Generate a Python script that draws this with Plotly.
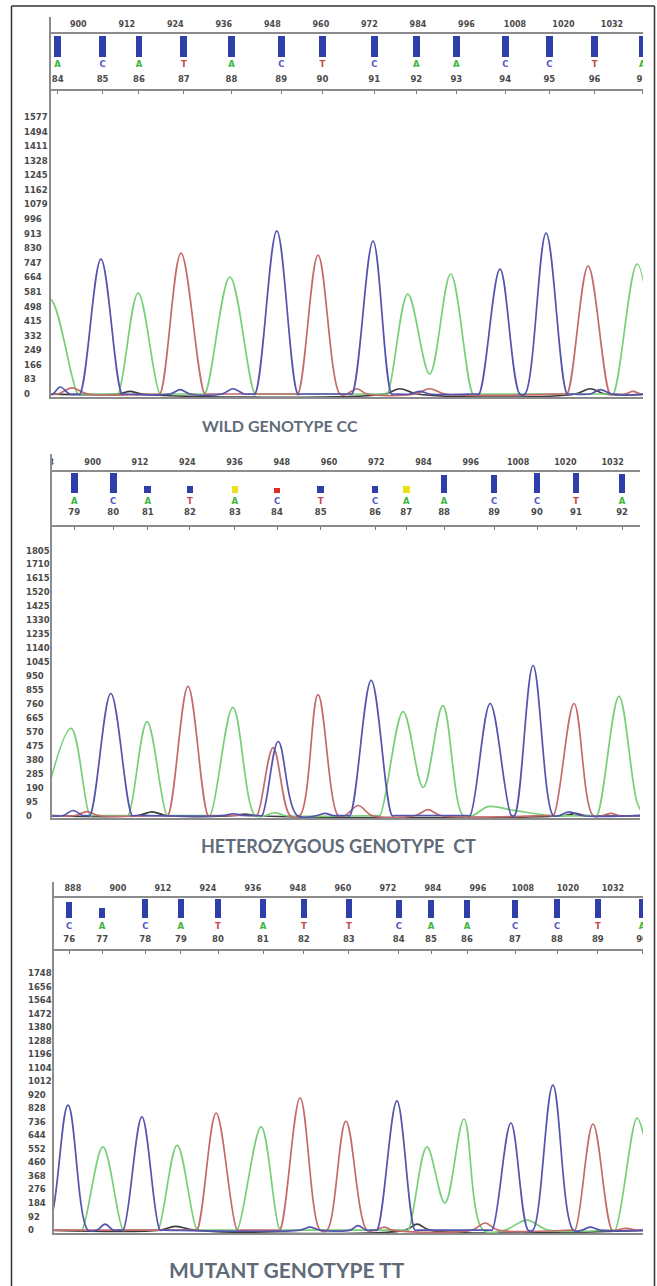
import plotly.graph_objects as go

# ------------------------------------------------------------------ data
# Panel 1 : wild genotype CC
P1_TITLE = "WILD GENOTYPE CC"
P1_SCAN_TICKS = [900, 912, 924, 936, 948, 960, 972, 984, 996, 1008, 1020, 1032]
P1_BASES = ["A", "C", "A", "T", "A", "C", "T", "C", "A", "A", "C", "C", "T", "A"]
P1_BASE_NUM = [84, 85, 86, 87, 88, 89, 90, 91, 92, 93, 94, 95, 96, 97]
P1_BASE_POS = [894.9, 906.0, 915.0, 926.1, 937.9, 950.2, 960.4, 973.2, 983.6, 993.5, 1005.6, 1016.5, 1027.7, 1039.5]
P1_BAR_Q = [1, 1, 1, 1, 1, 1, 1, 1, 1, 1, 1, 1, 1, 1]
P1_BAR_COL = ["B", "B", "B", "B", "B", "B", "B", "B", "B", "B", "B", "B", "B", "B"]
P1_Y_TICKS = [0, 83, 166, 249, 332, 415, 498, 581, 664, 747, 830, 913, 996, 1079, 1162, 1245, 1328, 1411, 1494, 1577]
P1_GREEN = [(886.1, 0), (893.0, 540), (899.9, 0), (900.7, 0), (909.0, 0), (909.8, 0), (914.8, 575), (920.2, 0),
            (921.0, 0), (930.5, 0), (931.3, 0), (937.5, 666), (943.7, 0), (944.5, 0), (975.6, 0), (976.4, 0),
            (981.5, 569), (986.9, 114), (992.1, 683), (997.6, 0), (998.4, 0), (1031.5, 0), (1032.3, 0),
            (1038.2, 740), (1043.5, 0)]
P1_BLUE = [(892.0, 0), (893.7, 0), (895.5, 40), (897.9, 0), (899.6, 0), (900.4, 0), (905.6, 768), (910.8, 0),
           (911.6, 0), (922.7, 0), (925.2, 25), (927.6, 0), (935.5, 0), (938.3, 30), (941.0, 0), (942.9, 0),
           (943.7, 0), (949.1, 928), (954.3, 0), (955.1, 0), (966.9, 0), (967.7, 0), (972.9, 871), (977.5, 0),
           (978.3, 0), (982.0, 0), (984.5, 15), (987.0, 0), (998.3, 0), (999.1, 0), (1004.3, 711), (1009.2, 0),
           (1010.5, 0), (1015.7, 916), (1020.9, 0), (1021.7, 0), (1026.6, 0), (1029.1, 25), (1032.0, 0), (1041.0, 0)]
P1_RED = [(892.0, 0), (895.0, 0), (898.4, 35), (902.4, 0), (919.4, 0), (920.2, 0), (925.4, 802), (931.3, 0),
          (932.1, 0), (953.5, 0), (954.3, 0), (959.3, 791), (964.7, 0), (966.4, 0), (968.9, 30), (971.4, 0),
          (983.3, 0), (986.9, 30), (990.7, 0), (1020.1, 0), (1020.9, 0), (1026.1, 728), (1031.5, 0), (1032.3, 0),
          (1035.2, 0), (1037.2, 15), (1039.2, 0), (1042.0, 0)]
P1_BLACK = [(892.0, 0), (909.8, 0), (912.8, 15), (915.8, 0), (975.8, 0), (979.5, 30), (983.9, 0), (1022.9, 0),
            (1026.6, 30), (1030.3, 0), (1042.0, 0)]

# Panel 2 : heterozygous genotype CT
P2_TITLE = "HETEROZYGOUS GENOTYPE\u00a0\u00a0CT"
P2_SCAN_TICKS = [888, 900, 912, 924, 936, 948, 960, 972, 984, 996, 1008, 1020, 1032]
P2_BASES = ["A", "C", "A", "T", "A", "C", "T", "C", "A", "A", "C", "C", "T", "A"]
P2_BASE_NUM = [79, 80, 81, 82, 83, 84, 85, 86, 87, 88, 89, 90, 91, 92]
P2_BASE_POS = [895.3, 905.2, 914.0, 924.7, 936.1, 946.8, 957.9, 971.7, 979.6, 989.2, 1001.9, 1012.8, 1022.7, 1034.4]
P2_BAR_Q = [1, 1, 0.35, 0.35, 0.35, 0.25, 0.35, 0.35, 0.35, 0.9, 0.9, 1, 1, 0.95]
P2_BAR_COL = ["B", "B", "B", "B", "Y", "R", "B", "B", "Y", "B", "B", "B", "B", "B"]
P2_Y_TICKS = [0, 95, 190, 285, 380, 475, 570, 665, 760, 855, 950, 1045, 1140, 1235, 1330, 1425, 1520, 1615, 1710, 1805]
P2_GREEN = [(887.0, 0), (894.5, 593), (899.3, 0), (900.1, 0), (908.2, 0), (909.0, 0), (913.8, 640), (918.9, 0),
            (919.7, 0), (929.0, 0), (929.8, 0), (935.6, 736), (941.2, 0), (943.8, 0), (946.3, 20), (948.8, 0),
            (972.1, 0), (972.9, 0), (978.8, 708), (983.9, 191), (988.9, 749), (994.0, 0), (996.5, 0),
            (1000.4, 61), (1006.9, 35), (1016.2, 0), (1027.2, 0), (1028.0, 0), (1033.6, 811), (1038.2, 89),
            (1040.0, 0)]
P2_BLUE = [(888.0, 0), (892.5, 0), (895.0, 34), (897.5, 0), (898.5, 0), (899.3, 0), (904.6, 831), (910.0, 0),
           (910.8, 0), (933.0, 0), (935.6, 12), (938.5, 0), (942.2, 0), (943.0, 0), (947.1, 504), (951.9, 0),
           (957.0, 0), (959.0, 15), (961.0, 0), (964.5, 0), (965.3, 0), (970.7, 920), (976.0, 0), (976.8, 0),
           (995.0, 0), (995.8, 0), (1000.9, 763), (1006.3, 0), (1007.1, 0), (1011.8, 1022), (1016.9, 0),
           (1018.5, 0), (1021.0, 25), (1024.0, 0), (1040.0, 0)]
P2_RED = [(888.0, 0), (895.5, 0), (898.6, 27), (901.5, 0), (918.3, 0), (919.1, 0), (924.2, 879), (929.3, 0),
          (930.1, 0), (940.9, 0), (941.7, 0), (945.8, 463), (950.1, 0), (952.6, 0), (957.2, 824), (962.3, 0),
          (964.1, 0), (967.4, 68), (970.9, 0), (981.9, 0), (985.1, 40), (988.4, 0), (1016.2, 0), (1017.0, 0),
          (1022.2, 763), (1027.0, 0), (1029.5, 0), (1031.6, 15), (1033.6, 0), (1040.0, 0)]
P2_BLACK = [(888.0, 0), (911.5, 0), (915.1, 25), (918.6, 0), (936.1, 0), (938.7, 10), (941.2, 0), (1019.9, 0),
            (1022.5, 15), (1025.0, 0), (1040.0, 0)]

# Panel 3 : mutant genotype TT
P3_TITLE = "MUTANT GENOTYPE TT"
P3_SCAN_TICKS = [888, 900, 912, 924, 936, 948, 960, 972, 984, 996, 1008, 1020, 1032]
P3_BASES = ["C", "A", "C", "A", "T", "A", "T", "T", "C", "A", "A", "C", "C", "T", "A"]
P3_BASE_NUM = [76, 77, 78, 79, 80, 81, 82, 83, 84, 85, 86, 87, 88, 89, 90]
P3_BASE_POS = [887.0, 895.8, 907.3, 916.8, 926.7, 938.7, 949.6, 961.6, 974.9, 983.5, 993.1, 1005.9, 1017.1,
               1028.0, 1039.8]
P3_BAR_Q = [0.85, 0.52, 1, 1, 1, 1, 1, 1, 0.97, 0.97, 0.97, 0.97, 1, 1, 1]
P3_BAR_COL = ["B", "B", "B", "B", "B", "B", "B", "B", "B", "B", "B", "B", "B", "B", "B"]
P3_Y_TICKS = [0, 92, 184, 276, 368, 460, 552, 644, 736, 828, 920, 1012, 1104, 1196, 1288, 1380, 1472, 1564, 1656, 1748]
P3_GREEN = [(880.0, 0), (889.6, 0), (890.4, 0), (896.0, 565), (901.4, 0), (902.2, 0), (909.9, 0), (910.7, 0),
            (915.8, 578), (921.1, 0), (921.9, 0), (931.0, 0), (931.8, 0), (938.2, 701), (943.2, 0), (944.0, 0),
            (976.6, 0), (977.4, 0), (982.4, 565), (987.2, 184), (992.3, 755), (997.4, 0), (1003.2, 0),
            (1009.1, 68), (1014.7, 0), (1031.8, 0), (1032.6, 0), (1038.4, 762), (1039.8, 687), (1043.5, 0)]
P3_BLUE = [(878.0, 0), (881.0, 0), (886.7, 850), (892.0, 0), (894.4, 0), (896.6, 40), (898.7, 0), (900.6, 0),
           (901.4, 0), (906.4, 769), (911.2, 0), (912.0, 0), (948.6, 0), (951.2, 20), (953.9, 0), (961.9, 0),
           (964.0, 30), (966.2, 0), (968.3, 0), (969.1, 0), (974.4, 878), (979.2, 0), (980.0, 0), (999.0, 0),
           (999.8, 0), (1004.8, 728), (1009.4, 0), (1010.7, 0), (1016.0, 986), (1021.4, 0), (1023.8, 0),
           (1025.9, 20), (1028.6, 0), (1042.0, 0)]
P3_RED = [(880.0, 0), (920.3, 0), (921.1, 0), (926.2, 796), (931.8, 0), (932.6, 0), (942.4, 0), (943.2, 0),
          (948.6, 898), (953.9, 0), (955.8, 0), (960.8, 741), (966.4, 0), (968.8, 0), (971.0, 20), (973.1, 0),
          (994.4, 0), (997.9, 48), (1001.4, 0), (1021.1, 0), (1021.9, 0), (1026.7, 721), (1031.8, 0), (1033.0, 0),
          (1035.6, 12), (1038.0, 0), (1042.0, 0)]
P3_BLACK = [(880.0, 0), (911.2, 0), (915.2, 25), (920.6, 0), (976.6, 0), (979.8, 40), (983.2, 0), (1042.0, 0)]

# ------------------------------------------------------------------ layout / style
W, H = 657, 1286


def px(v):
    return v / W


def py(v):
    return 1 - v / H


TRACE_COL = {"G": "#78cf78", "B": "#5454ae", "R": "#c46a6a", "K": "#3c3c3c"}
BAR_COL = {"B": "#2f3fa9", "Y": "#ebe01a", "R": "#e02b2b"}
LET_COL = {"A": "#3cb43c", "C": "#5656c2", "T": "#c84848"}
AXIS_COL = "#8c8c8c"
SMALL_FONT = "DejaVu Sans"
SMALL_COL = "#4a4a4a"
TITLE_COL = "#5f6b79"

PANELS = [
    dict(title=P1_TITLE, ticks=P1_SCAN_TICKS, bases=P1_BASES, nums=P1_BASE_NUM, pos=P1_BASE_POS,
         q=P1_BAR_Q, barcol=P1_BAR_COL, yticks=P1_Y_TICKS,
         curves=[("K", P1_BLACK), ("G", P1_GREEN), ("R", P1_RED), ("B", P1_BLUE)],
         xdom=(51, 643), htop=17, hbot=89, cbot=397, xr=(893.25, 1039.67), yr=(-17, 1736),
         lab=25, hline=33, bar=(36, 57), let=65, num=80, ylab_x=22, title_xy=(280, 425), tsize=16),
    dict(title=P2_TITLE, ticks=P2_SCAN_TICKS, bases=P2_BASES, nums=P2_BASE_NUM, pos=P2_BASE_POS,
         q=P2_BAR_Q, barcol=P2_BAR_COL, yticks=P2_Y_TICKS,
         curves=[("K", P2_BLACK), ("G", P2_GREEN), ("R", P2_RED), ("B", P2_BLUE)],
         xdom=(52, 640), htop=454, hbot=525, cbot=818, xr=(889.67, 1038.94), yr=(-17, 1979),
         lab=463, hline=471, bar=(473, 493), let=502, num=513, ylab_x=24, title_xy=(338, 846), tsize=18),
    dict(title=P3_TITLE, ticks=P3_SCAN_TICKS, bases=P3_BASES, nums=P3_BASE_NUM, pos=P3_BASE_POS,
         q=P3_BAR_Q, barcol=P3_BAR_COL, yticks=P3_Y_TICKS,
         curves=[("K", P3_BLACK), ("G", P3_GREEN), ("R", P3_RED), ("B", P3_BLUE)],
         xdom=(54, 643), htop=882, hbot=949, cbot=1233, xr=(882.96, 1040.03), yr=(-20, 1911),
         lab=889, hline=897, bar=(899, 918), let=927, num=940, ylab_x=26, title_xy=(287, 1269), tsize=21),
]

fig = go.Figure()
layout = dict(width=W, height=H, margin=dict(l=0, r=0, t=0, b=0), paper_bgcolor="white",
              plot_bgcolor="white", showlegend=False)
shapes = []
annotations = []

for i, P in enumerate(PANELS):
    h, c = 2 * i + 1, 2 * i + 2
    xh, yh = ("x" if h == 1 else f"x{h}"), ("y" if h == 1 else f"y{h}")
    xc, yc = f"x{c}", f"y{c}"
    xdom = [px(P["xdom"][0]), px(P["xdom"][1])]

    # header axes
    layout["xaxis" if h == 1 else f"xaxis{h}"] = dict(
        domain=xdom, range=list(P["xr"]), anchor=yh, showline=True, linecolor=AXIS_COL, linewidth=2,
        ticks="outside", ticklen=3, tickwidth=1, tickcolor="#777", tickvals=P["pos"],
        showticklabels=False, showgrid=False, zeroline=False, fixedrange=True)
    layout["yaxis" if h == 1 else f"yaxis{h}"] = dict(
        domain=[py(P["hbot"]), py(P["htop"])], range=[P["hbot"], P["htop"]], anchor=xh,
        showline=True, linecolor=AXIS_COL, linewidth=2, ticks="", showticklabels=False,
        showgrid=False, zeroline=False, fixedrange=True)
    # chart axes
    layout[f"xaxis{c}"] = dict(
        domain=xdom, range=list(P["xr"]), anchor=yc, showline=True, linecolor=AXIS_COL, linewidth=1.5,
        ticks="", showticklabels=False, showgrid=False, zeroline=False, fixedrange=True)
    layout[f"yaxis{c}"] = dict(
        domain=[py(P["cbot"]), py(P["hbot"])], range=list(P["yr"]), anchor=xc,
        showline=True, linecolor=AXIS_COL, linewidth=2, ticks="", showticklabels=False,
        showgrid=False, zeroline=False, fixedrange=True)

    # header top rule
    shapes.append(dict(type="line", xref=f"{xh} domain", yref=yh, x0=0, x1=1,
                       y0=P["hline"], y1=P["hline"], line=dict(color=AXIS_COL, width=2)))

    # scan-position labels
    fig.add_trace(go.Scatter(x=P["ticks"], y=[P["lab"]] * len(P["ticks"]), mode="text",
                             text=[f"<b>{t}</b>" for t in P["ticks"]], xaxis=xh, yaxis=yh, cliponaxis=True,
                             textfont=dict(family=SMALL_FONT, size=8, color=SMALL_COL), hoverinfo="skip"))
    # base-call bars
    b0, b1 = P["bar"]
    lengths = [(b1 - b0) * q for q in P["q"]]
    fig.add_trace(go.Bar(x=P["pos"], y=lengths, base=[b1 - L for L in lengths], width=1.7,
                         marker=dict(color=[BAR_COL[k] for k in P["barcol"]], line=dict(width=0)),
                         xaxis=xh, yaxis=yh, hoverinfo="skip"))
    # base letters
    fig.add_trace(go.Scatter(x=P["pos"], y=[P["let"]] * len(P["pos"]), mode="text",
                             text=[f"<b>{b}</b>" for b in P["bases"]],
                             xaxis=xh, yaxis=yh, cliponaxis=True,
                             textfont=dict(family=SMALL_FONT, size=8.5, color=[LET_COL[b] for b in P["bases"]]),
                             hoverinfo="skip"))
    # base numbers
    fig.add_trace(go.Scatter(x=P["pos"], y=[P["num"]] * len(P["pos"]), mode="text",
                             text=[f"<b>{n}</b>" for n in P["nums"]], xaxis=xh, yaxis=yh, cliponaxis=True,
                             textfont=dict(family=SMALL_FONT, size=8.5, color=SMALL_COL), hoverinfo="skip"))

    # chromatogram traces
    for key, pts in P["curves"]:
        fig.add_trace(go.Scatter(x=[p[0] for p in pts], y=[p[1] for p in pts], mode="lines",
                                 line=dict(color=TRACE_COL[key], width=1.7, shape="spline", smoothing=1.0),
                                 xaxis=xc, yaxis=yc, cliponaxis=True, hoverinfo="skip"))

    # y tick labels (left aligned, as in the sequencer printout)
    for v in P["yticks"]:
        annotations.append(dict(x=px(P["ylab_x"]), xref="paper", xanchor="left", y=v, yref=yc,
                                yanchor="middle", text=f"<b>{v}</b>", showarrow=False,
                                font=dict(family=SMALL_FONT, size=8.5, color=SMALL_COL)))
    # panel caption
    tx, ty = P["title_xy"]
    annotations.append(dict(x=px(tx), y=py(ty), xref="paper", yref="paper", xanchor="center",
                            yanchor="middle", text="<b>" + P["title"] + "</b>", showarrow=False,
                            font=dict(family="Lato", size=P["tsize"], color=TITLE_COL)))

# outer frame
shapes += [
    dict(type="line", xref="paper", yref="paper", x0=px(11.5), x1=px(11.5), y0=py(6), y1=0,
         line=dict(color="#333", width=1.5)),
    dict(type="line", xref="paper", yref="paper", x0=px(11.5), x1=px(654.5), y0=py(6), y1=py(6),
         line=dict(color="#333", width=1.5)),
    dict(type="line", xref="paper", yref="paper", x0=px(654.5), x1=px(654.5), y0=py(6), y1=0,
         line=dict(color="#333", width=1.5)),
]

layout["shapes"] = shapes
layout["annotations"] = annotations
layout["bargap"] = 0
fig.update_layout(**layout)
fig.write_html("out.html", config={"displayModeBar": False, "staticPlot": True},
               post_script="document.body.style.margin='0';document.body.style.overflow='hidden';")
